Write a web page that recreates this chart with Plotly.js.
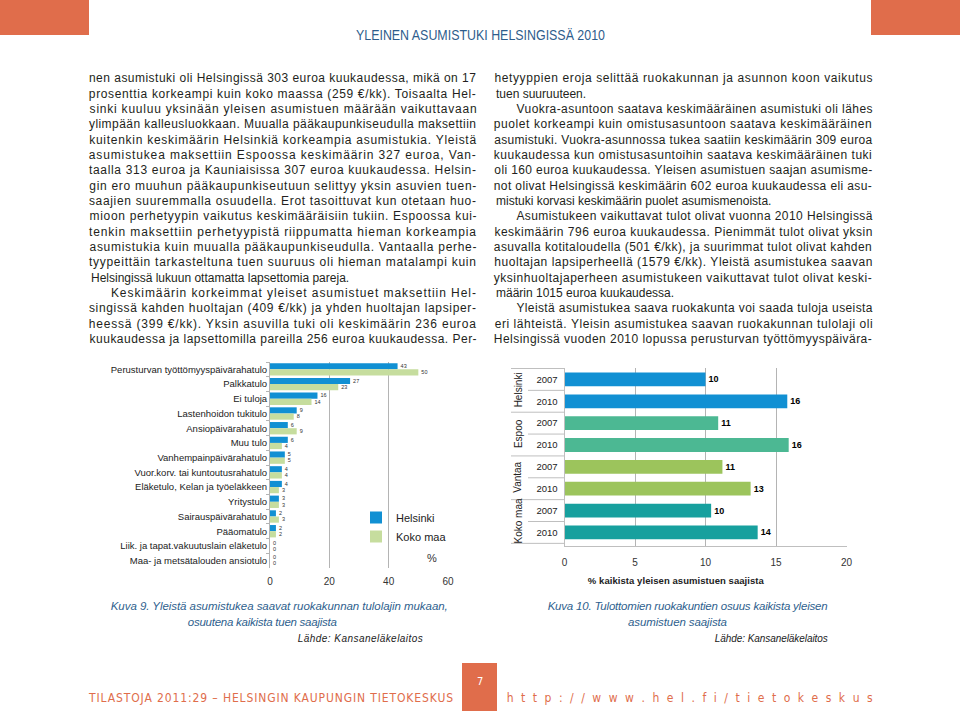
<!DOCTYPE html>
<html><head><meta charset="utf-8">
<script src="https://cdn.plot.ly/plotly-3.0.1.min.js"></script>
<style>html,body{margin:0;padding:0;background:#fff}#chart{width:960px;height:711px}</style>
</head><body><div id="chart"></div>
<script>
// ---------- Kuva 9 data ----------
const incomeTypes = ["Perusturvan työttömyyspäivärahatulo","Palkkatulo","Ei tuloja","Lastenhoidon tukitulo","Ansiopäivärahatulo","Muu tulo","Vanhempainpäivärahatulo","Vuor.korv. tai kuntoutusrahatulo","Eläketulo, Kelan ja työeläkkeen","Yritystulo","Sairauspäivärahatulo","Pääomatulo","Liik. ja tapat.vakuutuslain eläketulo","Maa- ja metsätalouden ansiotulo"];
const helsinkiShare = [43,27,16,9,6,6,5,4,4,3,2,2,0,0];
const kokoMaaShare  = [50,23,14,8,9,4,5,4,3,3,3,2,0,0];
const seriesNames9 = ["Helsinki","Koko maa"];
const xTicks9 = [0,20,40,60];

// ---------- Kuva 10 data ----------
const cities = ["Helsinki","Espoo","Vantaa","Koko maa"];
const years = ["2007","2010"];
const noIncomeShare = [[10.0,15.8],[10.9,15.9],[11.2,13.2],[10.4,13.7]];
const xTicks10 = [0,5,10,15,20];

// ---------- page text ----------
const leftLines = [
"nen asumistuki oli Helsingissä 303 euroa kuukaudessa, mikä on 17",
"prosenttia korkeampi kuin koko maassa (259 €/kk). Toisaalta Hel-",
"sinki kuuluu yksinään yleisen asumistuen määrään vaikuttavaan",
"ylimpään kalleusluokkaan. Muualla pääkaupunkiseudulla maksettiin",
"kuitenkin keskimäärin Helsinkiä korkeampia asumistukia. Yleistä",
"asumistukea maksettiin Espoossa keskimäärin 327 euroa, Van-",
"taalla 313 euroa ja Kauniaisissa 307 euroa kuukaudessa. Helsin-",
"gin ero muuhun pääkaupunkiseutuun selittyy yksin asuvien tuen-",
"saajien suuremmalla osuudella. Erot tasoittuvat kun otetaan huo-",
"mioon perhetyypin vaikutus keskimääräisiin tukiin. Espoossa kui-",
"tenkin maksettiin perhetyypistä riippumatta hieman korkeampia",
"asumistukia kuin muualla pääkaupunkiseudulla. Vantaalla perhe-",
"tyypeittäin tarkasteltuna tuen suuruus oli hieman matalampi kuin",
"Helsingissä lukuun ottamatta lapsettomia pareja.",
"Keskimäärin korkeimmat yleiset asumistuet maksettiin Hel-",
"singissä kahden huoltajan (409 €/kk) ja yhden huoltajan lapsiper-",
"heessä (399 €/kk). Yksin asuvilla tuki oli keskimäärin 236 euroa",
"kuukaudessa ja lapsettomilla pareilla 256 euroa kuukaudessa. Per-"];
const leftKind = "jjjjjjjjjjjjjnijjj";
const rightLines = [
"hetyyppien eroja selittää ruokakunnan ja asunnon koon vaikutus",
"tuen suuruuteen.",
"Vuokra-asuntoon saatava keskimääräinen asumistuki oli lähes",
"puolet korkeampi kuin omistusasuntoon saatava keskimääräinen",
"asumistuki. Vuokra-asunnossa tukea saatiin keskimäärin 309 euroa",
"kuukaudessa kun omistusasuntoihin saatava keskimääräinen tuki",
"oli 160 euroa kuukaudessa. Yleisen asumistuen saajan asumisme-",
"not olivat Helsingissä keskimäärin 602 euroa kuukaudessa eli asu-",
"mistuki korvasi keskimäärin puolet asumismenoista.",
"Asumistukeen vaikuttavat tulot olivat vuonna 2010 Helsingissä",
"keskimäärin 796 euroa kuukaudessa. Pienimmät tulot olivat yksin",
"asuvalla kotitaloudella (501 €/kk), ja suurimmat tulot olivat kahden",
"huoltajan lapsiperheellä (1579 €/kk). Yleistä asumistukea saavan",
"yksinhuoltajaperheen asumistukeen vaikuttavat tulot olivat keski-",
"määrin 1015 euroa kuukaudessa.",
"Yleistä asumistukea saava ruokakunta voi saada tuloja useista",
"eri lähteistä. Yleisin asumistukea saavan ruokakunnan tulolaji oli",
"Helsingissä vuoden 2010 lopussa perusturvan työttömyyspäivära-"];
const rightKind = "jnijjjjjnijjjjnijj";

// ---------- styles ----------
const W = 960, H = 711;
const px = v => v / W, py = v => 1 - v / H;
const FONT = "Liberation Sans, Arial, sans-serif";
const COND = "DejaVu Sans Condensed, Liberation Sans Narrow, Liberation Sans, sans-serif";
const colH = "#1190d3", colK = "#c6dd9e";
const cityColors = ["#1190d3","#4cb893","#9cc45c","#17a09e"];
const orange = "#e06d4b";
const captionBlue = "#2f5f8e";
const gridGray = "#b4b4b4";

const annotations = [];
const fitWidths = [];
const fitModes = [];
function addText(o, fit, mode) { annotations.push(Object.assign({xref:'paper', yref:'paper', showarrow:false, yanchor:'middle'}, o)); fitWidths.push(fit || null); fitModes.push(mode || 'spacing'); }

// body columns
function addColumn(lines, kinds, L, R) {
  const y0 = 78.3, pitch = 15.34, indent = 22;
  lines.forEach((s, i) => {
    const k = kinds[i];
    const y = py(y0 + i * pitch);
    const f = {family: FONT, size: 12, color: '#231f20'};
    if (k === 'n') addText({text: s, x: px(L), xanchor: 'left', y: y, font: f});
    else {
      const l = (k === 'i') ? L + indent : L;
      addText({text: s, x: px((l + R) / 2), xanchor: 'center', y: y, font: f}, R - l);
    }
  });
}
addColumn(leftLines, leftKind, 89, 476);
addColumn(rightLines, rightKind, 494, 872);

// header & footer
addText({text: "YLEINEN ASUMISTUKI HELSINGISSÄ 2010", x: px(480), y: py(34), xanchor: 'center', font: {family: FONT, size: 15, color: '#2e5d8c'}}, 249, 'spacingAndGlyphs');
addText({text: "TILASTOJA 2011:29 – HELSINGIN KAUPUNGIN TIETOKESKUS", x: px(270.5), y: py(698), xanchor: 'center', font: {family: COND, size: 12, color: orange}}, 364);
addText({text: "h t t p : / / w w w . h e l . f i / t i e t o k e s k u s", x: px(689.5), y: py(698), xanchor: 'center', font: {family: COND, size: 12, color: orange}}, 366);
addText({text: "7", x: px(480), y: py(681), xanchor: 'center', font: {family: COND, size: 11, color: '#ffffff'}});

// captions
const capFont = {family: FONT, size: 11.5, color: captionBlue, style: 'italic'};
const srcFont = {family: FONT, size: 10, color: '#222', style: 'italic'};
addText({text: "Kuva 9. Yleistä asumistukea saavat ruokakunnan tulolajin mukaan,", x: px(279), y: py(606), xanchor: 'center', font: capFont}, 337);
addText({text: "osuutena kaikista tuen saajista", x: px(262.5), y: py(622), xanchor: 'center', font: capFont}, 149);
addText({text: "Lähde: Kansaneläkelaitos", x: px(360.5), y: py(638), xanchor: 'center', font: srcFont}, 125);
addText({text: "Kuva 10. Tulottomien ruokakuntien osuus kaikista yleisen", x: px(687), y: py(606), xanchor: 'center', font: capFont}, 280);
addText({text: "asumistuen saajista", x: px(677.5), y: py(622), xanchor: 'center', font: capFont}, 99);
addText({text: "Lähde: Kansaneläkelaitos", x: px(771.5), y: py(638), xanchor: 'center', font: srcFont}, 113);

// chart 1 extras
addText({text: "%", x: px(432), y: py(558), xanchor: 'center', font: {family: FONT, size: 11, color: '#333'}});

// chart 2 categories
const cats10 = [], vals10 = [], colors10 = [], ticktext10 = [];
cities.forEach((c, i) => years.forEach((yr, j) => {
  cats10.push(c + " " + yr); vals10.push(noIncomeShare[i][j]); colors10.push(cityColors[i]); ticktext10.push(yr);
}));
cities.forEach((c, i) => addText({text: c, xref: 'paper', yref: 'y2', x: px(518), y: 2 * i + 0.5, xanchor: 'center', textangle: -90, font: {family: FONT, size: 10, color: '#222'}}));
addText({text: "% kaikista yleisen asumistuen saajista", x: px(676), y: py(580), xanchor: 'center', font: {family: FONT, size: 9.5, color: '#222', weight: 'bold'}}, 176);

// chart 2 divider shapes
const shapes = [];
const divColor = '#bfbfbf';
[-0.5, 1.5, 3.5, 5.5].forEach(b => shapes.push({type: 'line', xref: 'paper', yref: 'y2', x0: px(511), x1: px(564.5), y0: b, y1: b, line: {color: divColor, width: 1}}));
shapes.push({type: 'line', xref: 'paper', yref: 'y2', x0: px(511), x1: px(564.5), y0: 7.5, y1: 7.5, line: {color: divColor, width: 1}});
[0.5, 2.5, 4.5, 6.5].forEach(b => shapes.push({type: 'line', xref: 'paper', yref: 'y2', x0: px(528), x1: px(564.5), y0: b, y1: b, line: {color: divColor, width: 1}}));
// page decorations
shapes.push({type: 'rect', xref: 'paper', yref: 'paper', x0: 0, x1: px(89), y0: py(35), y1: 1, fillcolor: orange, line: {width: 0}, layer: 'below'});
shapes.push({type: 'rect', xref: 'paper', yref: 'paper', x0: px(871), x1: 1, y0: py(35), y1: 1, fillcolor: orange, line: {width: 0}, layer: 'below'});
shapes.push({type: 'rect', xref: 'paper', yref: 'paper', x0: px(462), x1: px(497), y0: 0, y1: py(663), fillcolor: orange, line: {width: 0}, layer: 'below'});

const traces = [
  {type: 'bar', orientation: 'h', name: seriesNames9[0], y: incomeTypes, x: helsinkiShare, xaxis: 'x', yaxis: 'y',
   marker: {color: colH}, text: helsinkiShare.map(String), textposition: 'outside', cliponaxis: false,
   textfont: {family: FONT, size: 8, color: '#333'}},
  {type: 'bar', orientation: 'h', name: seriesNames9[1], y: incomeTypes, x: kokoMaaShare, xaxis: 'x', yaxis: 'y',
   marker: {color: colK}, text: kokoMaaShare.map(String), textposition: 'outside', cliponaxis: false,
   textfont: {family: FONT, size: 8, color: '#333'}},
  {type: 'bar', orientation: 'h', showlegend: false, y: cats10, x: vals10, xaxis: 'x2', yaxis: 'y2', width: 0.63,
   marker: {color: colors10}, texttemplate: '%{x:.0f}', textposition: 'outside', cliponaxis: false,
   textfont: {family: FONT, size: 9, color: '#000', weight: 'bold'}}
];

const layout = {
  width: W, height: H, margin: {l: 0, r: 0, t: 0, b: 0},
  paper_bgcolor: '#fff', plot_bgcolor: 'rgba(0,0,0,0)',
  font: {family: FONT, color: '#333'},
  barmode: 'group', bargap: 0.16, bargroupgap: 0,
  showlegend: true,
  legend: {x: px(356), y: py(503), xanchor: 'left', yanchor: 'top', font: {family: FONT, size: 11, color: '#222'}, bgcolor: 'rgba(0,0,0,0)', itemwidth: 30, traceorder: 'normal'},
  xaxis: {domain: [px(270), px(448)], range: [0, 60], tickvals: xTicks9, showgrid: true, gridcolor: gridGray, zeroline: false,
          showline: false, ticks: '', tickfont: {family: FONT, size: 10, color: '#333'}, ticklabelstandoff: 6, anchor: 'y', fixedrange: true},
  yaxis: {domain: [py(568), py(362)], type: 'category', autorange: 'reversed', showline: true, linecolor: gridGray,
          ticks: 'outside', ticklen: 3, tickcolor: gridGray, tickson: 'boundaries', showgrid: false,
          tickfont: {family: FONT, size: 9.5, color: '#222'}, anchor: 'x', fixedrange: true},
  xaxis2: {domain: [px(564.5), px(846.5)], range: [0, 20], tickvals: xTicks10, showgrid: true, gridcolor: gridGray, zeroline: false,
           showline: true, linecolor: divColor, ticks: '', tickfont: {family: FONT, size: 10, color: '#333'}, ticklabelstandoff: 7, anchor: 'y2', fixedrange: true},
  yaxis2: {domain: [py(546), py(368)], type: 'category', autorange: 'reversed', showline: true, linecolor: divColor, ticks: '',
           tickvals: cats10, ticktext: ticktext10, tickfont: {family: FONT, size: 9.5, color: '#222'}, ticklabelstandoff: 4, showgrid: false, anchor: 'x2', fixedrange: true},
  annotations: annotations,
  shapes: shapes
};

Plotly.newPlot('chart', traces, layout, {displayModeBar: false, staticPlot: true}).then(gd => {
  gd.querySelectorAll('g.annotation').forEach(g => {
    const i = +g.getAttribute('data-index');
    const w = fitWidths[i];
    if (w) {
      const t = g.querySelector('text.annotation-text');
      if (t) { t.setAttribute('textLength', w); t.setAttribute('lengthAdjust', fitModes[i]); }
    }
  });
});
</script>
</body></html>
